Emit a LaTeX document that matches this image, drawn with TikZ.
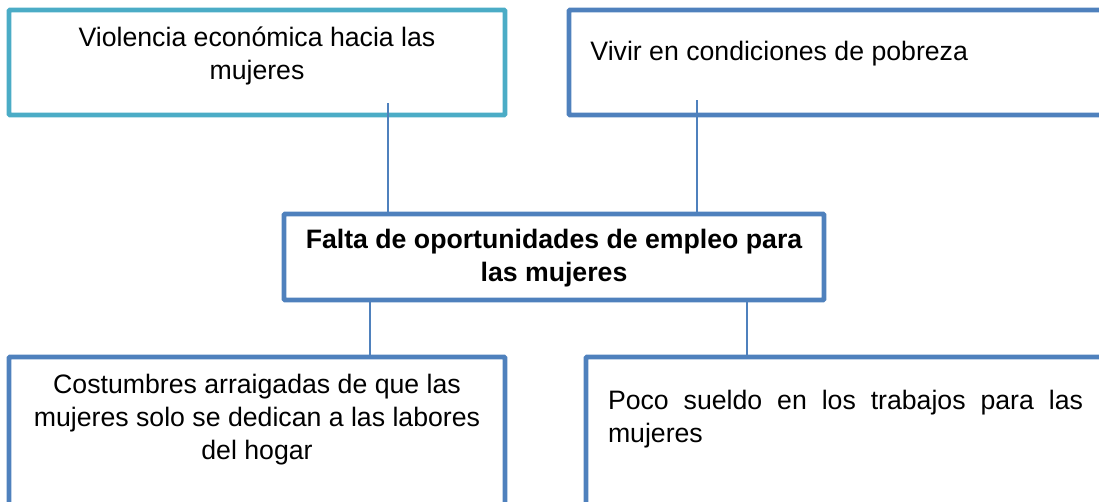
\documentclass[tikz,border=0pt]{standalone}
\usepackage{fontspec}
\setmainfont{Liberation Sans}
\usetikzlibrary{fit}
\definecolor{tealb}{HTML}{4BACC6}
\definecolor{blueb}{HTML}{4F81BD}
\tikzset{
  boxbase/.style={inner sep=0pt, line width=2.2pt, rounded corners=0.5pt},
  tealbox/.style={boxbase, draw=tealb},
  bluebox/.style={boxbase, draw=blueb},
  txt/.style={inner sep=0pt, font=\fontsize{12}{14.85}\selectfont, text=black},
  link/.style={draw=blueb, line width=0.9pt}
}
\begin{document}
\begin{tikzpicture}[x=0.45pt, y=-0.45pt]
\useasboundingbox (0,0) rectangle (1099,501);
\clip (0,0) rectangle (1099,501);
% boxes
\node[tealbox, fit={(9,10)(505,115)}] (A) {};
\node[bluebox, fit={(569,10)(1115,115)}] (B) {};
\node[bluebox, fit={(284,214)(824,300)}] (C) {};
\node[bluebox, fit={(9,357)(505,515)}] (D) {};
\node[bluebox, fit={(586,357)(1115,515)}] (E) {};
% texts
\node[txt, align=center] (tA) at (257,56) {Violencia económica hacia las\\mujeres};
\node[txt, anchor=west] (tB) at (590,54) {Vivir en condiciones de pobreza};
\node[txt, align=center, font=\fontsize{12}{14.85}\selectfont\bfseries] (tC) at (554,258) {Falta de oportunidades de empleo para\\las mujeres};
\node[txt, align=center] (tD) at (257,420) {Costumbres arraigadas de que las\\mujeres solo se dedican a las labores\\del hogar};
\node[txt, align=left] (tE) at (845.5,419) {\makebox[213.75pt][s]{Poco sueldo en los trabajos para las}\\mujeres};
% connectors
\coordinate (a1) at (388,103);
\coordinate (b1) at (697,100);
\coordinate (c1) at (370,300);
\coordinate (c2) at (747,300);
\draw[link] (a1) -- (a1 |- C.north);
\draw[link] (b1) -- (b1 |- C.north);
\draw[link] (c1 |- C.south) -- (c1 |- D.north);
\draw[link] (c2 |- C.south) -- (c2 |- E.north);
\end{tikzpicture}
\end{document}
